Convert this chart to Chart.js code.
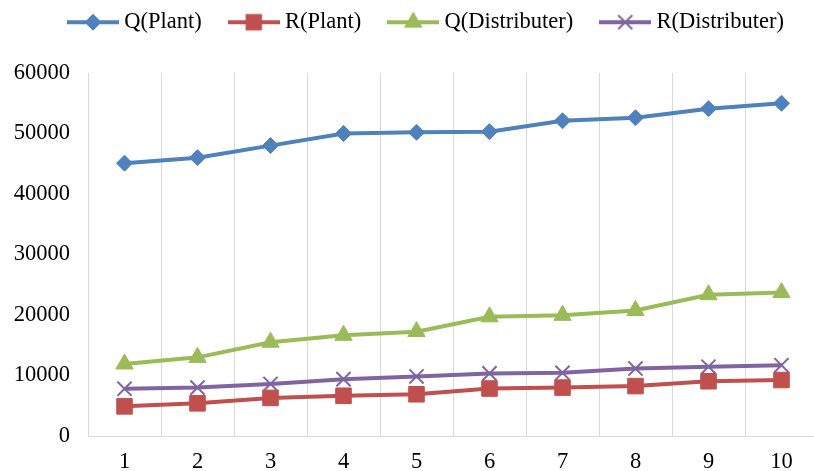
<!DOCTYPE html>
<html>
<head>
<meta charset="utf-8">
<script src="https://cdn.jsdelivr.net/npm/chart.js@4.4.1/dist/chart.umd.min.js"></script>
<style>
  html, body { margin: 0; padding: 0; background: #fff; overflow: hidden; }
  #wrap { width: 830px; height: 471px; }
</style>
</head>
<body>
<div id="wrap"><canvas id="chart" width="830" height="471"></canvas></div>
<script>
// data
const categories = ['1', '2', '3', '4', '5', '6', '7', '8', '9', '10'];
const qPlant = [45100, 46000, 48000, 50000, 50200, 50300, 52100, 52600, 54100, 55000];
const rPlant = [4900, 5400, 6300, 6650, 6900, 7850, 8000, 8250, 9050, 9250];
const qDist = [11900, 13000, 15500, 16650, 17250, 19700, 19950, 20750, 23350, 23700];
const rDist = [7800, 8000, 8600, 9400, 9850, 10350, 10450, 11150, 11450, 11700];
const yTicks = [0, 10000, 20000, 30000, 40000, 50000, 60000];

const FONT = 'Liberation Serif, Times New Roman, serif';
const FONT_SIZE = 22.5;

// legend symbol: short line with the marker on it
function legendSymbol(color, style, radius, bw) {
  const c = document.createElement('canvas');
  c.width = 52; c.height = 22;
  const g = c.getContext('2d');
  g.strokeStyle = color;
  g.lineWidth = 4;
  g.beginPath();
  g.moveTo(0, 11); g.lineTo(52, 11);
  g.stroke();
  g.fillStyle = color;
  g.lineWidth = bw;
  Chart.helpers.drawPoint(g, { pointStyle: style, radius: radius, rotation: 0, borderWidth: bw }, 26, 11);
  return c;
}

function series(label, data, color, style, radius, bw) {
  return {
    label: label,
    data: data,
    borderColor: color,
    backgroundColor: color,
    borderWidth: 4,
    pointStyle: style,
    pointRadius: radius,
    pointHoverRadius: radius,
    pointBorderWidth: bw,
    pointBorderColor: color,
    pointBackgroundColor: color,
    tension: 0,
    legendIcon: legendSymbol(color, style, radius, bw),
  };
}

// legend placement: room below it, nudged up and to the right
const legendSpace = {
  id: 'legendSpace',
  beforeInit(chart) {
    const fit = chart.legend.fit;
    chart.legend.fit = function () {
      fit.bind(chart.legend)();
      this.height += 8.5;
    };
  },
  afterLayout(chart) {
    chart.legend.left = 36;
    chart.legend.top = -21;
  },
};

new Chart(document.getElementById('chart'), {
  type: 'line',
  data: {
    labels: categories,
    datasets: [
      series('Q(Plant)', qPlant, '#4F81BD', 'rectRot', 8, 1),
      series('R(Plant)', rPlant, '#C0504D', 'rect', 11, 1),
      series('Q(Distributer)', qDist, '#9BBB59', 'triangle', 10, 1),
      series('R(Distributer)', rDist, '#8064A2', 'crossRot', 10, 2),
    ],
  },
  options: {
    responsive: false,
    animation: false,
    layout: { padding: { top: 0, left: 0, right: 9, bottom: 0 } },
    plugins: {
      tooltip: { enabled: false },
      legend: {
        position: 'top',
        labels: {
          usePointStyle: true,
          pointStyleWidth: 40,
          padding: 32,
          color: '#000',
          font: { family: FONT, size: FONT_SIZE },
          generateLabels(chart) {
            return chart.data.datasets.map((ds, i) => ({
              text: ds.label,
              pointStyle: ds.legendIcon,
              fillStyle: ds.borderColor,
              strokeStyle: ds.borderColor,
              lineWidth: 0,
              hidden: false,
              datasetIndex: i,
            }));
          },
        },
      },
    },
    scales: {
      x: {
        offset: true,
        grid: { display: true, offset: true, color: '#D9D9D9', lineWidth: 1, drawTicks: false },
        border: { display: true, color: '#D9D9D9', width: 1 },
        ticks: { color: '#000', padding: 13, font: { family: FONT, size: FONT_SIZE } },
        afterFit(scale) { scale.height = 35; },
      },
      y: {
        min: 0,
        max: 60000,
        afterBuildTicks(scale) { scale.ticks = yTicks.map(v => ({ value: v })); },
        grid: { display: false, drawTicks: false },
        border: { display: false },
        ticks: {
          color: '#000',
          padding: 18,
          font: { family: FONT, size: FONT_SIZE },
          callback: v => String(v),
        },
        afterFit(scale) { scale.width = 88; },
      },
    },
  },
  plugins: [legendSpace],
});
</script>
</body>
</html>
